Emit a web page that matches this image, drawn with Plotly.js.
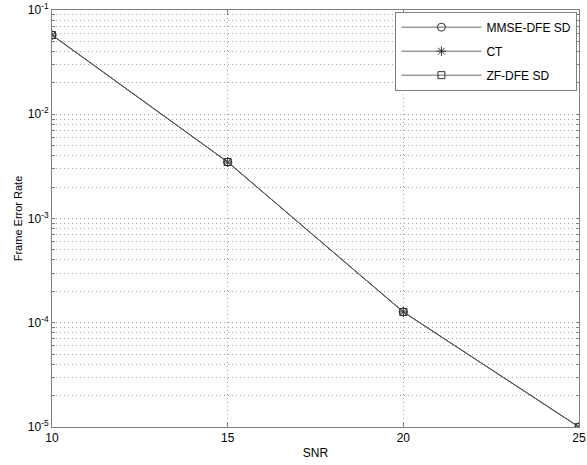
<!DOCTYPE html>
<html><head><meta charset="utf-8">
<script src="https://cdn.plot.ly/plotly-3.0.1.min.js"></script>
<style>html,body{margin:0;padding:0;background:#fff}</style>
</head><body><div id="chart" style="width:587px;height:465px"></div>
<script>
const snr = [10, 15, 20, 25];
const mmseDfeSd = [0.0575, 0.00348, 0.000127, 0.00001];
const ct = [0.0575, 0.00348, 0.000127, 0.00001];
const zfDfeSd = [0.0575, 0.00348, 0.000127, 0.00001];
const xTicks = [10, 15, 20, 25];
const decades = [-5, -4, -3, -2, -1];

const yTickVals = [], yTickText = [];
decades.forEach(function(d){
  for (let m = 1; m <= 9; m++) {
    if (d === -1 && m > 1) break;
    yTickVals.push(m * Math.pow(10, d));
    yTickText.push(m === 1 ? '10<sup>' + d + '</sup>' : '');
  }
});

const lineStyle = {color: '#555', width: 0.9};
const traces = [
  {x: snr, y: mmseDfeSd, name: 'MMSE-DFE SD', legendgroup: 'a', mode: 'lines+markers', line: lineStyle,
   marker: {symbol: 'circle-open', size: 8, color: '#333', line: {width: 1}}},
  {x: snr, y: ct, name: 'CT', legendgroup: 'b', mode: 'lines+markers', line: lineStyle,
   marker: {symbol: 'asterisk-open', size: 8, color: '#333', line: {width: 1}}},
  {x: snr, y: zfDfeSd, name: 'ZF-DFE SD', legendgroup: 'c', mode: 'lines+markers', line: lineStyle,
   marker: {symbol: 'square-open', size: 7, color: '#333', line: {width: 1}}}
];

const layout = {
  width: 587, height: 465,
  margin: {l: 52, r: 8, t: 10, b: 38},
  paper_bgcolor: '#fff', plot_bgcolor: '#fff',
  font: {family: 'Arial, Liberation Sans, sans-serif', size: 12, color: '#000'},
  showlegend: true,
  legend: {x: 0.997, y: 0.996, xanchor: 'right', yanchor: 'top',
    bgcolor: '#fff', bordercolor: '#808080', borderwidth: 1,
    traceorder: 'grouped', tracegroupgap: 5, itemwidth: 80,
    font: {size: 12, color: '#000'}},
  xaxis: {range: [10, 25], tickvals: xTicks, ticktext: xTicks.map(String),
    ticklabeloverflow: 'allow',
    showgrid: true, gridcolor: '#a8a8a8', griddash: '1px,3px', gridwidth: 1,
    showline: true, linecolor: '#808080', mirror: 'ticks', ticks: 'inside', ticklen: 5,
    tickcolor: '#808080', zeroline: false,
    title: {text: 'SNR', font: {size: 12}, standoff: 4}},
  yaxis: {type: 'log', range: [-5, -1], tickvals: yTickVals, ticktext: yTickText,
    ticklabeloverflow: 'allow',
    showgrid: true, gridcolor: '#a8a8a8', griddash: '1px,3px', gridwidth: 1,
    showline: true, linecolor: '#808080', mirror: 'ticks', ticks: 'inside', ticklen: 3,
    tickcolor: '#808080', zeroline: false,
    title: {text: 'Frame Error Rate', font: {size: 11}, standoff: 2}}
};

Plotly.newPlot('chart', traces, layout, {displayModeBar: false, staticPlot: true});
</script></body></html>
